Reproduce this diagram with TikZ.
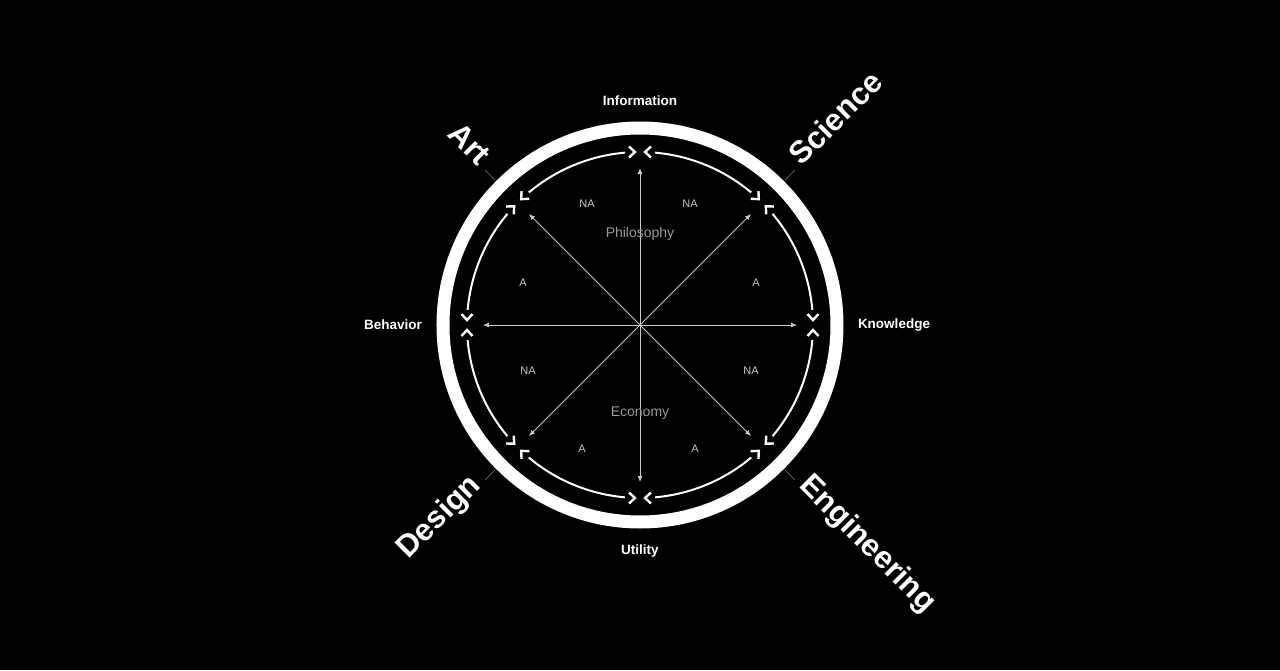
\documentclass[tikz,border=0pt]{standalone}
\usepackage{fontspec}
\setmainfont{Liberation Sans}
\usetikzlibrary{arrows.meta}
\definecolor{cArrow}{HTML}{C8C8C8}
\definecolor{cSoft}{HTML}{9A9A9A}
\definecolor{cTick}{HTML}{7A7A7A}

\begin{document}
\begin{tikzpicture}[x=1pt, y=1pt,
    ring/.style={draw=white, line width=13pt},
    track/.style={draw=white, line width=2pt},
    notch/.style={draw=white, line width=2.4pt, line cap=butt, miter limit=10},
    arrow/.style={-{Latex[length=6pt,width=5pt]}, draw=cArrow, line width=0.8pt},
    tick/.style={draw=cTick, line width=0.6pt},
    axis/.style={text=white, font=\bfseries\fontsize{13.5}{15}\selectfont},
    field/.style={text=white, font=\bfseries\fontsize{31}{34}\selectfont, inner sep=0pt},
    zone/.style={text=cArrow, font=\fontsize{11}{13}\selectfont},
    realm/.style={text=cSoft, font=\fontsize{14}{16}\selectfont}
  ]
  \fill[black] (-640,-345) rectangle (640,325);
  \coordinate (c) at (0,0);

  % outer ring and inner track
  \draw[ring] (c) circle (197);
  \foreach \i in {0,...,7} {
    \coordinate (p\i) at (45*\i:173);
    \coordinate (e\i) at (45*\i:157);
    \draw[track] (45*\i+5:173) arc (45*\i+5:45*\i+40:173);
    \draw[arrow] (c) -- (e\i);
    \begin{scope}[shift={(p\i)}, rotate=45*\i]
      \draw[notch] (-5.5,11) -- (0,5) -- (5.5,11);
      \draw[notch] (-5.5,-11) -- (0,-5) -- (5.5,-11);
    \end{scope}
  }

  % axes
  \node[axis] (info) at (0,224) {Information};
  \node[axis] (util) at (0,-226) {Utility};
  \node[axis] (behav) at (-247,0) {Behavior};
  \node[axis] (know) at (254,0) {Knowledge};

  \node[realm] (philo) at (0,91) {Philosophy};
  \node[realm] (econ) at (0,-88) {Economy};

  \node[zone] (na1) at (-53,121) {NA};
  \node[zone] (na2) at (50,121) {NA};
  \node[zone] (na3) at (-112,-46) {NA};
  \node[zone] (na4) at (111,-46) {NA};
  \node[zone] (a1) at (-117,42) {A};
  \node[zone] (a2) at (116,42) {A};
  \node[zone] (a3) at (-58,-124) {A};
  \node[zone] (a4) at (55,-124) {A};

  % fields on the diagonals
  \node[field, rotate=-45, anchor=mid east] (art) at (135:226) {Art};
  \node[field, rotate=45, anchor=mid west] (sci) at (45:226) {Science};
  \node[field, rotate=45, anchor=mid east] (des) at (225:226) {Design};
  \node[field, rotate=-45, anchor=mid west] (eng) at (-45:226) {Engineering};

  \foreach \a in {45,135,225,315} {
    \coordinate (ti\a) at (\a:205);
    \coordinate (to\a) at (\a:219);
    \draw[tick] (ti\a) -- (to\a);
  }
\end{tikzpicture}
\end{document}
